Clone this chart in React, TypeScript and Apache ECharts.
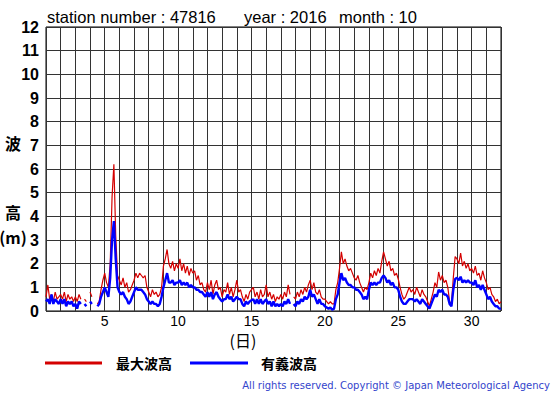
import React, { useEffect, useRef } from "react";
import * as echarts from "echarts";

// 3-hourly readings, October 2016, starting day 1 00h
const START_DAY = 1;
const STEP_DAYS = 1 / 8;

const maxWave: (number | null)[] = [
  0.6, 1.1, 0.5, 0.7, 0.4, 0.8, 0.5, 0.6,
  0.7, 0.5, 0.8, 0.4, 0.7, 0.5, 0.6, 0.4,
  0.6, 0.4, 0.7, 0.5, null, 0.5, 0.4, null,
  0.8, 0.6, null, null, 0.3, 0.4, 0.9, 1.3,
  1.6, 1.2, 1.0, 2.0, 4.8, 6.2, 3.2, 1.5,
  1.3, 1.1, 1.4, 1.0, 1.2, 0.8, 0.9, 1.1,
  1.3, 1.6, 1.4, 1.6, 1.5, 1.4, 1.5, 1.0,
  0.8, 0.6, 0.9, 0.7, 0.8, 0.6, 0.7, 1.0,
  1.9, 2.2, 2.6, 2.0, 1.8, 2.1, 1.7, 2.0,
  1.8, 2.2, 1.7, 2.0, 1.6, 1.9, 1.5, 1.8,
  1.6, 1.7, 1.3, 1.5, 1.1, 1.2, 0.9, 0.8,
  1.2, 0.9, 1.3, 0.7, 1.1, 1.3, 0.9, 1.0,
  0.6, 0.9, 0.8, 1.2, 0.7, 1.0, 0.6, 0.9,
  1.3, 0.8, 0.9, 0.6, 0.4, 0.7, 0.5, 0.8,
  0.9, 1.0, 0.6, 0.8, 0.5, 0.9, 0.6, 0.7,
  1.1, 0.6, 0.8, 0.5, 0.7, 0.4, 0.6, 0.5,
  0.7, 0.5, 0.8, 0.6, 1.1, 0.7, null, 0.6,
  0.5, 0.8, 0.6, 0.9, 0.7, 1.0, 0.8, 1.1,
  1.3, 0.9, 1.2, 0.8, 0.7, 0.9, 0.6, 0.5,
  0.5, 0.4, 0.3, 0.4, 0.3, 0.3, 0.9, 1.2,
  1.8, 2.5, 2.0, 2.2, 1.9, 1.7, 1.8, 1.6,
  1.4, 1.3, 1.5, 1.2, 1.0, 0.8, 1.0, 0.9,
  1.2, 1.6, 1.4, 1.7, 1.5, 1.8, 1.6, 2.1,
  2.5, 2.2, 1.9, 2.1, 1.7, 1.8, 1.5, 1.6,
  1.35, 1.0, 0.7, 0.5, 0.6, 0.8, 1.0, 0.8,
  0.9, 0.7, 1.0, 0.8, 0.6, 0.9, 0.7, 0.6,
  0.4, 0.2, 0.5, 0.8, 1.2, 1.0, 1.65, 1.3,
  1.5, 1.2, 1.3, 1.0, 0.4, 0.3, 1.4, 2.3,
  2.2, 2.0, 2.45, 1.9, 2.1, 1.8, 2.0, 1.7,
  1.8, 1.6, 1.9, 1.5, 1.6, 1.3, 1.7, 1.4,
  1.2, 0.9, 1.0, 0.7, 0.6, 0.4, 0.5, 0.3,
  0.4,
];

const sigWave: (number | null)[] = [
  0.4, 0.5, 0.3, 0.7, 0.3, 0.5, 0.4, 0.3,
  0.5, 0.3, 0.5, 0.2, 0.4, 0.3, 0.4, 0.2,
  0.3, 0.1, 0.4, 0.3, null, 0.3, 0.2, null,
  0.4, 0.3, null, null, 0.2, 0.3, 0.6, 0.8,
  1.0, 0.8, 0.6, 1.4, 3.0, 3.8, 2.2, 1.0,
  0.8, 0.7, 0.8, 0.6, 0.5, 0.3, 0.4, 0.6,
  0.8, 1.0, 0.9, 0.9, 0.9, 0.8, 0.7, 0.5,
  0.4, 0.3, 0.4, 0.3, 0.3, 0.2, 0.3, 0.6,
  1.0, 1.3, 1.6, 1.2, 1.2, 1.3, 1.1, 1.2,
  1.2, 1.3, 1.1, 1.2, 1.1, 1.2, 1.0, 1.1,
  1.0, 1.0, 0.9, 0.9, 0.8, 0.8, 0.7, 0.6,
  0.8, 0.6, 0.8, 0.5, 0.7, 0.8, 0.6, 0.5,
  0.4, 0.5, 0.5, 0.7, 0.5, 0.6, 0.4, 0.5,
  0.6, 0.5, 0.5, 0.3, 0.2, 0.4, 0.3, 0.4,
  0.45, 0.5, 0.3, 0.5, 0.3, 0.5, 0.3, 0.4,
  0.5, 0.3, 0.4, 0.2, 0.4, 0.2, 0.3, 0.2,
  0.3, 0.2, 0.4, 0.3, 0.5, 0.3, null, 0.3,
  0.2, 0.4, 0.3, 0.5, 0.4, 0.6, 0.5, 0.6,
  0.9, 0.6, 0.7, 0.5, 0.3, 0.5, 0.3, 0.3,
  0.2, 0.15, 0.1, 0.15, 0.05, 0.1, 0.5, 0.7,
  1.2, 1.6, 1.3, 1.4, 1.2, 1.1, 1.1, 1.0,
  1.0, 0.9, 0.9, 0.8, 0.7, 0.5, 0.6, 0.5,
  0.9, 1.2, 1.1, 1.2, 1.1, 1.2, 1.2, 1.4,
  1.5, 1.4, 1.2, 1.3, 1.1, 1.2, 1.0, 1.0,
  0.9, 0.6, 0.4, 0.3, 0.3, 0.4, 0.5, 0.5,
  0.5, 0.4, 0.5, 0.4, 0.3, 0.5, 0.4, 0.3,
  0.2, 0.1, 0.3, 0.5, 0.7, 0.6, 0.9, 0.8,
  0.9, 0.7, 0.7, 0.6, 0.3, 0.2, 0.9, 1.35,
  1.4, 1.3, 1.45, 1.2, 1.3, 1.2, 1.3, 1.2,
  1.2, 1.1, 1.3, 1.0, 1.1, 0.9, 1.1, 0.9,
  0.7, 0.5, 0.6, 0.4, 0.3, 0.2, 0.2, 0.1,
  0.1,
];

const dayLabels = [5, 10, 15, 20, 25, 30];
const seriesNames = ["最大波高", "有義波高"];
const titleParts = ["station number : 47816", "year : 2016", "month : 10"];
const copyright = "All rights reserved. Copyright © Japan Meteorological Agency";

const RED = "#d40000";
const BLUE = "#0000ff";

export default function App() {
  const ref = useRef<HTMLDivElement>(null);

  useEffect(() => {
    const chart = echarts.init(ref.current!, null, { renderer: "svg" });
    const toData = (arr: (number | null)[]) =>
      arr.map((v, i) => [START_DAY + i * STEP_DAYS, v]);

    const titleStyle = { fontSize: 16.5, fontFamily: "Liberation Sans", fill: "#000", align: "left", verticalAlign: "middle" };

    chart.setOption({
      animation: false,
      backgroundColor: "#ffffff",
      grid: {
        left: 46,
        top: 27,
        width: 455,
        height: 284,
        show: true,
        borderColor: "#000",
        borderWidth: 1,
        backgroundColor: "transparent",
        containLabel: false,
      },
      xAxis: {
        type: "value",
        min: 1,
        max: 32,
        interval: 1,
        axisLine: { show: false },
        axisTick: { show: false },
        splitLine: { show: true, lineStyle: { color: "#333", width: 1 } },
        axisLabel: {
          formatter: (v: number) => (dayLabels.includes(v) ? String(v) : ""),
          color: "#000",
          fontSize: 14,
          fontFamily: "Liberation Sans",
          margin: 3,
          showMinLabel: true,
          showMaxLabel: true,
          hideOverlap: false,
        },
      },
      yAxis: {
        type: "value",
        min: 0,
        max: 12,
        interval: 1,
        axisLine: { show: false },
        axisTick: { show: false },
        splitLine: { show: true, lineStyle: { color: "#333", width: 1 } },
        axisLabel: {
          color: "#000",
          fontSize: 16,
          fontWeight: "bold",
          fontFamily: "Liberation Sans",
          margin: 7,
        },
      },
      series: [
        {
          name: seriesNames[0],
          type: "line",
          data: toData(maxWave),
          showSymbol: false,
          connectNulls: false,
          lineStyle: { color: RED, width: 1.2 },
          z: 2,
        },
        {
          name: seriesNames[1],
          type: "line",
          data: toData(sigWave),
          showSymbol: false,
          connectNulls: false,
          lineStyle: { color: BLUE, width: 2.4 },
          z: 3,
        },
      ],
      graphic: [
        { type: "text", x: 47, y: 17, style: { text: titleParts[0], ...titleStyle } },
        { type: "text", x: 244, y: 17, style: { text: titleParts[1], ...titleStyle } },
        { type: "text", x: 339, y: 17, style: { text: titleParts[2], ...titleStyle } },
        { type: "text", x: 13, y: 143, style: { text: "波", fontSize: 16, fontWeight: "bold", fontFamily: "Noto Sans CJK JP", fill: "#000", align: "center", verticalAlign: "middle" } },
        { type: "text", x: 13, y: 212, style: { text: "高", fontSize: 16, fontWeight: "bold", fontFamily: "Noto Sans CJK JP", fill: "#000", align: "center", verticalAlign: "middle" } },
        { type: "text", x: 13, y: 237, style: { text: "(m)", fontSize: 16, fontWeight: "bold", fontFamily: "Noto Sans CJK JP", fill: "#000", align: "center", verticalAlign: "middle" } },
        { type: "text", x: 243, y: 340, style: { text: "(日)", fontSize: 16, fontFamily: "Noto Sans CJK JP", fill: "#000", align: "center", verticalAlign: "middle" } },
        { type: "line", shape: { x1: 45, y1: 363, x2: 102, y2: 363 }, style: { stroke: RED, lineWidth: 3 } },
        { type: "text", x: 116, y: 363, style: { text: seriesNames[0], fontSize: 14, fontWeight: "bold", fontFamily: "Noto Sans CJK JP", fill: "#000", align: "left", verticalAlign: "middle" } },
        { type: "line", shape: { x1: 190, y1: 363, x2: 248, y2: 363 }, style: { stroke: BLUE, lineWidth: 3 } },
        { type: "text", x: 261, y: 363, style: { text: seriesNames[1], fontSize: 14, fontWeight: "bold", fontFamily: "Noto Sans CJK JP", fill: "#000", align: "left", verticalAlign: "middle" } },
        { type: "text", x: 550, y: 385, style: { text: copyright, fontSize: 10, fontFamily: "DejaVu Sans", fill: "#3344cc", align: "right", verticalAlign: "middle" } },
      ],
    });

    return () => chart.dispose();
  }, []);

  return (
    <div
      ref={ref}
      style={{ position: "fixed", left: 0, top: 0, width: 555, height: 395, background: "#fff" }}
    />
  );
}
